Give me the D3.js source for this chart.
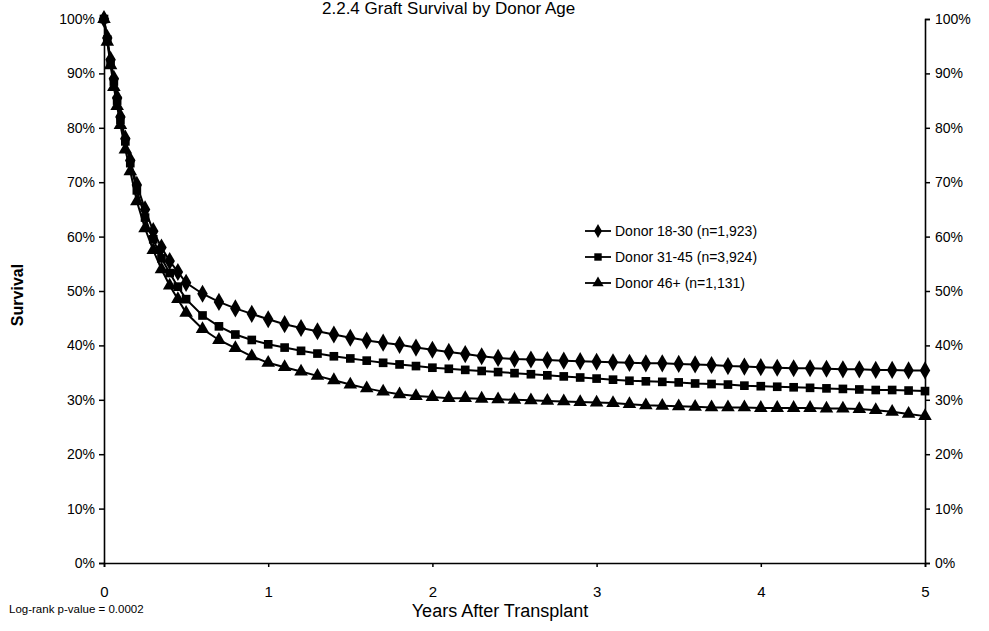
<!DOCTYPE html>
<html>
<head>
<meta charset="utf-8">
<script src="https://cdn.jsdelivr.net/npm/d3@7"></script>
<style>
  body { margin: 0; background: #fff; }
  svg { font-family: Arial, "Liberation Sans", sans-serif; }
</style>
</head>
<body>
<svg></svg>
<script>
const width = 989, height = 631;
const margin = {top: 19, right: 64, bottom: 68, left: 104};

// years after transplant (shared by all three series)
const years = [0, 0.02, 0.04, 0.06, 0.08, 0.10, 0.13, 0.16, 0.20, 0.25, 0.30, 0.35, 0.40, 0.45, 0.50,
  0.6, 0.7, 0.8, 0.9, 1.0, 1.1, 1.2, 1.3, 1.4, 1.5, 1.6, 1.7, 1.8, 1.9, 2.0,
  2.1, 2.2, 2.3, 2.4, 2.5, 2.6, 2.7, 2.8, 2.9, 3.0, 3.1, 3.2, 3.3, 3.4, 3.5,
  3.6, 3.7, 3.8, 3.9, 4.0, 4.1, 4.2, 4.3, 4.4, 4.5, 4.6, 4.7, 4.8, 4.9, 5.0];

// survival (%)
const donor18_30 = [100, 96.5, 92.5, 89, 85.5, 82, 78, 74, 69.5, 65, 61, 58, 55.5, 53.5, 51.5,
  49.5, 48, 46.8, 45.8, 44.8, 43.9, 43.2, 42.6, 42, 41.4, 40.9, 40.5, 40.1, 39.6, 39.2,
  38.8, 38.4, 38, 37.7, 37.5, 37.4, 37.3, 37.2, 37.1, 37, 36.9, 36.8, 36.7, 36.7, 36.6,
  36.5, 36.4, 36.2, 36.1, 36, 35.9, 35.8, 35.8, 35.7, 35.6, 35.6, 35.5, 35.5, 35.4, 35.4];
const donor31_45 = [100, 96.2, 92, 88.5, 85, 81.5, 77.5, 73.5, 68.5, 63.5, 59.5, 56, 53.3, 50.8, 48.5,
  45.5, 43.5, 42, 41, 40.2, 39.6, 39, 38.5, 38, 37.6, 37.2, 36.8, 36.5, 36.2, 35.9,
  35.7, 35.5, 35.3, 35.1, 34.9, 34.7, 34.5, 34.3, 34.1, 33.9, 33.7, 33.5, 33.4, 33.3, 33.2,
  33, 32.9, 32.8, 32.6, 32.5, 32.4, 32.3, 32.2, 32.1, 32, 31.9, 31.8, 31.8, 31.7, 31.6];
const donor46 = [100, 95.8, 91.5, 87.5, 84, 80.5, 76, 72, 66.5, 61.5, 57.5, 54, 51, 48.5, 46,
  43, 41, 39.5, 38, 36.8, 36, 35.2, 34.4, 33.6, 32.8, 32.1, 31.5, 31, 30.7, 30.5,
  30.3, 30.3, 30.2, 30.1, 30, 29.9, 29.8, 29.7, 29.6, 29.5, 29.4, 29.2, 29, 28.9, 28.8,
  28.7, 28.6, 28.6, 28.6, 28.5, 28.5, 28.5, 28.5, 28.4, 28.4, 28.3, 28.1, 27.8, 27.4, 27];

const seriesNames = ["Donor 18-30 (n=1,923)", "Donor 31-45 (n=3,924)", "Donor 46+ (n=1,131)"];
const seriesValues = [donor18_30, donor31_45, donor46];
const seriesSymbols = [d3.symbolDiamond, d3.symbolSquare, d3.symbolTriangle];
const symbolSizes = [95, 75, 80];

const yTicks = [0, 10, 20, 30, 40, 50, 60, 70, 80, 90, 100];
const xTicks = [0, 1, 2, 3, 4, 5];

const svg = d3.select("svg").attr("width", width).attr("height", height);

const x = d3.scaleLinear().domain([0, 5]).range([margin.left, width - margin.right]);
const y = d3.scaleLinear().domain([0, 100]).range([height - margin.bottom, margin.top]);

// title (sits at the very top of the scan)
svg.append("text")
  .attr("x", 322).attr("y", 14)
  .attr("font-size", 17)
  .text("2.2.4 Graft Survival by Donor Age");

// left axis
const yLeft = svg.append("g")
  .attr("transform", `translate(${margin.left},0)`)
  .call(d3.axisLeft(y).tickValues(yTicks).tickFormat(d => d + "%").tickSize(5).tickPadding(4));

// right axis
const yRight = svg.append("g")
  .attr("transform", `translate(${width - margin.right},0)`)
  .call(d3.axisRight(y).tickValues(yTicks).tickFormat(d => d + "%").tickSize(5).tickPadding(5));

// bottom axis
const xAxis = svg.append("g")
  .attr("transform", `translate(0,${height - margin.bottom})`)
  .call(d3.axisBottom(x).tickValues(xTicks).tickFormat(d3.format("d")).tickSize(4).tickPadding(19));

[yLeft, yRight, xAxis].forEach(g => {
  g.select(".domain").attr("stroke", "#000").attr("stroke-width", 1.6);
  g.selectAll(".tick line").attr("stroke", "#000").attr("stroke-width", 1.5);
  g.selectAll(".tick text").attr("fill", "#000").attr("font-size", 14)
    .attr("font-family", "Arial, 'Liberation Sans', sans-serif");
});
xAxis.selectAll(".tick text").attr("font-size", 15);

// axis titles
svg.append("text")
  .attr("transform", `translate(23,${y(50) + 4}) rotate(-90)`)
  .attr("text-anchor", "middle")
  .attr("font-size", 16).attr("font-weight", "bold")
  .text("Survival");

svg.append("text")
  .attr("x", 500).attr("y", 617)
  .attr("text-anchor", "middle")
  .attr("font-size", 18)
  .text("Years After Transplant");

svg.append("text")
  .attr("x", 9).attr("y", 613)
  .attr("font-size", 11.5)
  .text("Log-rank p-value = 0.0002");

// survival curves
const line = d3.line()
  .x((d, i) => x(years[i]))
  .y(d => y(d));

seriesValues.forEach((vals, s) => {
  svg.append("path")
    .datum(vals)
    .attr("fill", "none")
    .attr("stroke", "#000")
    .attr("stroke-width", 2)
    .attr("d", line);

  svg.append("g").selectAll("path")
    .data(vals)
    .enter()
    .append("path")
    .attr("transform", (d, i) => `translate(${x(years[i])},${y(d)})`)
    .attr("d", d3.symbol().type(seriesSymbols[s]).size(symbolSizes[s]))
    .attr("fill", "#000");
});

// legend
const legend = svg.append("g");
seriesNames.forEach((name, s) => {
  const ly = 231 + s * 26;
  legend.append("line")
    .attr("x1", 585).attr("x2", 611).attr("y1", ly).attr("y2", ly)
    .attr("stroke", "#000").attr("stroke-width", 1.8);
  legend.append("path")
    .attr("transform", `translate(598,${ly})`)
    .attr("d", d3.symbol().type(seriesSymbols[s]).size(55))
    .attr("fill", "#000");
  legend.append("text")
    .attr("x", 615).attr("y", ly + 5)
    .attr("font-size", 14)
    .text(name);
});
</script>
</body>
</html>
